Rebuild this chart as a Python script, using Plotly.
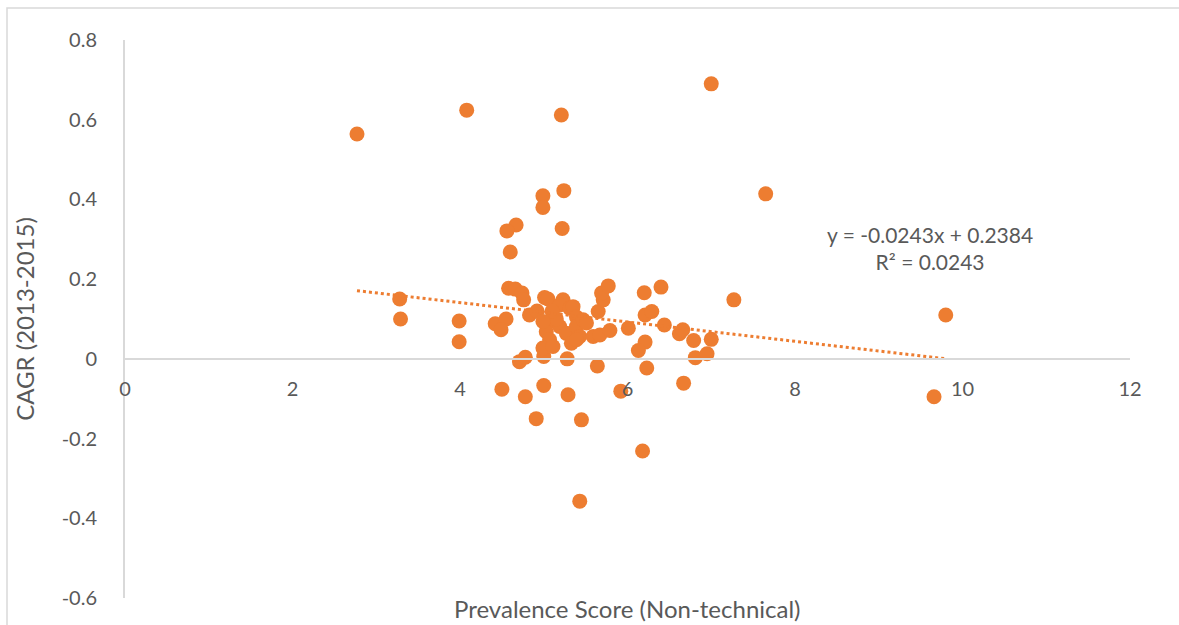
import plotly.graph_objects as go

# Prevalence Score (Non-technical) vs CAGR (2013-2015)
prevalence = [
    2.77, 4.08, 5.21, 7.00, 7.65, 7.27, 9.80, 9.66, 3.28, 3.29, 3.99, 3.99,
    4.99, 4.99, 5.24, 4.67, 4.56, 5.22, 4.60,
    4.50, 4.78, 5.00, 5.29, 5.92, 6.67, 4.91, 5.45, 6.18, 5.43, 5.64, 6.23, 4.71,
    4.78, 5.00, 5.28, 6.81, 6.95, 7.00,
    4.58, 4.66, 4.74, 4.76, 4.42, 4.55, 4.49, 4.83, 5.01, 5.05, 5.23, 5.19,
    5.31, 5.35, 5.39, 5.07, 5.03, 5.07, 4.99, 5.11, 5.19, 5.27, 5.33, 5.39,
    5.47, 5.43, 5.59, 5.67, 5.79, 5.65, 5.71, 5.69, 5.77, 6.01, 6.20, 6.40,
    6.21, 6.29, 6.44, 6.21, 6.13, 6.62, 6.66, 6.79, 5.15, 5.10, 4.92, 5.51,
    5.39, 4.99,
]
cagr = [
    0.564, 0.624, 0.612, 0.690, 0.414, 0.148, 0.110, -0.095, 0.150, 0.100, 0.095, 0.043,
    0.409, 0.380, 0.422, 0.336, 0.321, 0.327, 0.268,
    -0.076, -0.095, -0.067, -0.090, -0.081, -0.061, -0.150, -0.153, -0.231, -0.357, -0.018, -0.023, -0.007,
    0.004, 0.006, 0.000, 0.003, 0.013, 0.049,
    0.177, 0.175, 0.165, 0.148, 0.088, 0.100, 0.073, 0.110, 0.154, 0.150, 0.148, 0.135,
    0.127, 0.131, 0.105, 0.094, 0.068, 0.048, 0.027, 0.031, 0.081, 0.064, 0.039, 0.081,
    0.098, 0.056, 0.056, 0.060, 0.071, 0.119, 0.148, 0.165, 0.183, 0.077, 0.166, 0.180,
    0.110, 0.119, 0.085, 0.042, 0.021, 0.063, 0.073, 0.046, 0.100, 0.120, 0.120, 0.090,
    0.048, 0.094,
]

# Linear trendline (as reported on chart)
slope = -0.0243
intercept = 0.2384
trend_x = [2.77, 9.80]
trend_y = [slope * v + intercept for v in trend_x]

x_ticks = [0, 2, 4, 6, 8, 10, 12]
y_ticks = [-0.6, -0.4, -0.2, 0, 0.2, 0.4, 0.6, 0.8]
y_tick_text = ["-0.6", "-0.4", "-0.2", "0", "0.2", "0.4", "0.6", "0.8"]

ORANGE = "#ED7D31"
TEXT = "#595959"
AXIS = "#D9D9D9"
FONT = "Lato"
TICK_FS = 20
TITLE_FS = 24
EQ_FS = 21

fig = go.Figure()
fig.add_trace(go.Scatter(
    x=prevalence, y=cagr, mode="markers",
    marker=dict(size=15, color=ORANGE, line=dict(width=0)),
    showlegend=False, hoverinfo="x+y",
))
fig.add_trace(go.Scatter(
    x=trend_x, y=trend_y, mode="lines",
    line=dict(color=ORANGE, width=3, dash="dot"),
    showlegend=False, hoverinfo="skip",
))

W, H = 1179, 625
ml, mr, mt, mb = 125, 49, 40, 27
pw, ph = W - ml - mr, H - mt - mb

fig.update_layout(
    width=W, height=H,
    margin=dict(l=ml, r=mr, t=mt, b=mb),
    paper_bgcolor="white", plot_bgcolor="white",
    font=dict(family=FONT, size=TICK_FS, color=TEXT),
    xaxis=dict(
        range=[0, 12], tickvals=x_ticks, showgrid=False, zeroline=False,
        showline=True, linecolor=AXIS, linewidth=2,
        anchor="free", position=0.6 / 1.4,
        ticks="", ticklabelstandoff=12,
        tickfont=dict(family=FONT, size=TICK_FS, color=TEXT),
        layer="above traces",
    ),
    yaxis=dict(
        range=[-0.6, 0.8], tickvals=y_ticks, ticktext=y_tick_text,
        showgrid=False, zeroline=False,
        showline=True, linecolor=AXIS, linewidth=2,
        ticks="", ticklabelstandoff=22,
        tickfont=dict(family=FONT, size=TICK_FS, color=TEXT),
        title=dict(text="CAGR (2013-2015)", font=dict(family=FONT, size=TITLE_FS, color=TEXT), standoff=20),
    ),
    annotations=[
        dict(text="Prevalence Score (Non-technical)", xref="paper", yref="paper",
             x=(627 - ml) / pw, y=(H - mb - 608) / ph, showarrow=False,
             font=dict(family=FONT, size=TITLE_FS, color=TEXT), xanchor="center", yanchor="middle"),
        dict(text="y = -0.0243x + 0.2384<br>R² = 0.0243", xref="paper", yref="paper",
             x=(930 - ml) / pw, y=(H - mb - 248) / ph, showarrow=False, align="center",
             font=dict(family=FONT, size=EQ_FS, color=TEXT), xanchor="center", yanchor="middle"),
    ],
    shapes=[
        dict(type="rect", xref="paper", yref="paper",
             x0=(7 - ml) / pw, x1=(1190 - ml) / pw,
             y0=(H - mb - 640) / ph, y1=(H - mb - 8) / ph,
             line=dict(color=AXIS, width=1.5), fillcolor="rgba(0,0,0,0)", layer="below"),
    ],
)

fig.write_html("out.html")
